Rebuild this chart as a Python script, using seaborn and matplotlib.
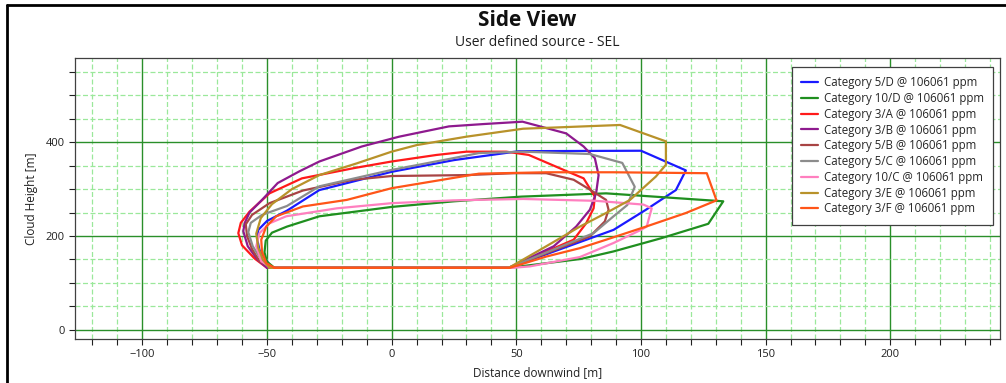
import pandas as pd
import matplotlib.pyplot as plt
import seaborn as sns
from matplotlib.lines import Line2D
from matplotlib.ticker import MultipleLocator

# --- DATA (cloud outlines, distance [m] vs height [m]) ---
cat_5d_x = [-48, 47, 89, 102, 114, 118, 100, 51, 25, 0, -29, -42, -50, -53.5, -54, -53, -50, -48]
cat_5d_y = [132, 132, 213, 256, 298, 340, 382, 381, 362, 337, 298, 254, 232, 213, 195, 170, 146, 132]

cat_10d_x = [-47, 47, 76, 89, 108, 127, 133, 86, 52, 25, 0, -29, -42, -48, -50.5, -51, -50, -47]
cat_10d_y = [132, 132, 151, 167, 195, 226, 274, 291, 284, 274, 262, 242, 220, 207, 190, 165, 145, 132]

cat_3a_x = [-50, 47, 73, 78, 81, 81.5, 77, 69, 55, 46, 30, 18, 0, -15, -36, -49, -57, -60.5, -61.5, -60, -55, -50]
cat_3a_y = [132, 132, 192, 227, 259, 284, 323, 341, 373, 380, 380, 373, 359, 345, 323, 291, 252, 228, 206, 180, 152, 132]

cat_3b_x = [-50, 47, 65, 74, 79.5, 82, 83, 81.5, 77, 70, 52.5, 37, 23, 3, -12, -29, -37, -45.7, -52, -57, -59, -59.5, -57.7, -53.7, -50]
cat_3b_y = [132, 132, 178, 220, 256, 291, 330, 366, 391, 419, 444, 439, 434, 412, 391, 359, 338, 313, 277, 250, 227, 210, 178, 149, 132]

cat_5b_x = [-48, 47, 79.5, 85.5, 87, 86, 79.5, 73, 62, 49, 30, 0, -15.5, -35.6, -49, -56, -58.5, -58, -56, -53, -48]
cat_5b_y = [132, 132, 199, 231, 256, 277, 299, 320, 334, 334, 330, 328, 320, 297, 270, 245, 225, 200, 172, 146, 132]

cat_5c_x = [-49, 47, 81, 89, 94.5, 97.5, 92.5, 79.5, 52.7, 35, 24.6, 0, -29, -42, -52, -56.5, -57.5, -55.7, -52.3, -49]
cat_5c_y = [132, 132, 206, 242, 266, 305, 356, 375, 380, 377, 366, 341, 306, 264, 245, 228, 208, 178, 149, 132]

cat_10c_x = [-48, 48.6, 55.4, 75.5, 89, 99.6, 102.3, 104.3, 101, 82, 52.7, 24.6, 0, -22, -42.3, -49, -53, -54.3, -52.3, -48]
cat_10c_y = [132, 132, 135, 155, 185, 212, 220, 259, 267, 275, 279, 276, 270, 259, 242, 227, 206, 178, 146, 132]

cat_3e_x = [-49, 47, 62, 75.5, 86, 95.6, 106, 110, 110, 91.6, 67.5, 52.7, 30, 10, 0, -14, -29, -40, -48, -52.5, -54.3, -53.5, -51.6, -49]
cat_3e_y = [132, 132, 178, 220, 249, 277, 327, 352, 402, 437, 432, 429, 412, 394, 380, 355, 330, 300, 268, 238, 205, 175, 149, 132]

cat_3f_x = [-47, 47.4, 62, 75.5, 86, 102, 118, 130.3, 126.4, 89, 62, 35, 0, -18, -35.6, -46.3, -50.3, -52.3, -52, -50.3, -47]
cat_3f_y = [132, 132, 156, 174, 192, 220, 249, 276, 334, 336, 336, 333, 302, 277, 263, 242, 220, 192, 167, 142, 132]

labels = ['Category 5/D @ 106061 ppm', 'Category 10/D @ 106061 ppm', 'Category 3/A @ 106061 ppm',
          'Category 3/B @ 106061 ppm', 'Category 5/B @ 106061 ppm', 'Category 5/C @ 106061 ppm',
          'Category 10/C @ 106061 ppm', 'Category 3/E @ 106061 ppm', 'Category 3/F @ 106061 ppm']
colors = ['#1a1aff', '#1f8f1f', '#ff1a1a', '#8e1a8e', '#a84444', '#8c8c8c', '#ff7fbf', '#b8922a', '#ff5518']

curves = [(cat_5d_x, cat_5d_y), (cat_10d_x, cat_10d_y), (cat_3a_x, cat_3a_y),
          (cat_3b_x, cat_3b_y), (cat_5b_x, cat_5b_y), (cat_5c_x, cat_5c_y),
          (cat_10c_x, cat_10c_y), (cat_3e_x, cat_3e_y), (cat_3f_x, cat_3f_y)]

rows = []
for lab, (xs, ys) in zip(labels, curves):
    for i, (x, y) in enumerate(zip(xs, ys)):
        rows.append({'series': lab, 'step': i, 'x': x, 'y': y})
df = pd.DataFrame(rows)

sns.set_style('white')
plt.rcParams['font.family'] = ['Open Sans', 'DejaVu Sans']

fig = plt.figure(figsize=(10.06, 3.83), dpi=100)
ax = fig.add_axes([75 / 1006, 44 / 383, 925 / 1006, 281 / 383])

sns.lineplot(data=df, x='x', y='y', hue='series', hue_order=labels, palette=colors,
             sort=False, estimator=None, linewidth=1.6, ax=ax)

ax.set_xlim(-127, 244)
ax.set_ylim(-20, 580)
ax.xaxis.set_major_locator(MultipleLocator(50))
ax.xaxis.set_minor_locator(MultipleLocator(10))
ax.yaxis.set_major_locator(MultipleLocator(200))
ax.yaxis.set_minor_locator(MultipleLocator(50))
ax.grid(which='minor', color='#9be89b', linestyle=(0, (4, 2)), linewidth=0.9)
ax.grid(which='major', color='#2a8f2a', linestyle='-', linewidth=1.0)
ax.set_axisbelow(True)
ax.tick_params(which='both', direction='out', length=4, width=0.8, color='#202020',
               labelsize=8, labelcolor='#202020', bottom=True, left=True)
for s in ax.spines.values():
    s.set_color('#404040')
    s.set_linewidth(0.9)

ax.set_xlabel('Distance downwind [m]', fontsize=8.5, color='#202020', labelpad=4)
ax.set_ylabel('Cloud Height [m]', fontsize=8.5, color='#202020')
ax.yaxis.set_label_coords(-0.04, 0.5)

handles, labs = ax.get_legend_handles_labels()
leg = ax.legend(handles, labs, loc='upper left', bbox_to_anchor=(0.775, 0.968),
                borderaxespad=0, fontsize=8.3, frameon=True, fancybox=False, framealpha=1,
                edgecolor='#404040', handlelength=1.5, handletextpad=0.45,
                labelspacing=0.24, borderpad=0.8)
leg.get_frame().set_linewidth(0.9)

fig.text(527 / 1006, 1 - 20 / 383, 'Side View', ha='center', va='center',
         fontsize=15, fontweight='bold', color='#101010')
fig.text(537 / 1006, 1 - 43 / 383, 'User defined source - SEL', ha='center', va='center',
         fontsize=10, color='#202020')

# outer frame (left and top edges only)
fig.add_artist(Line2D([7 / 1006, 7 / 1006], [0, 1 - 5 / 383], transform=fig.transFigure,
                      color='black', linewidth=2))
fig.add_artist(Line2D([7 / 1006, 1], [1 - 5 / 383, 1 - 5 / 383], transform=fig.transFigure,
                      color='black', linewidth=2))

fig.savefig('out.png', dpi=100)
plt.close(fig)
